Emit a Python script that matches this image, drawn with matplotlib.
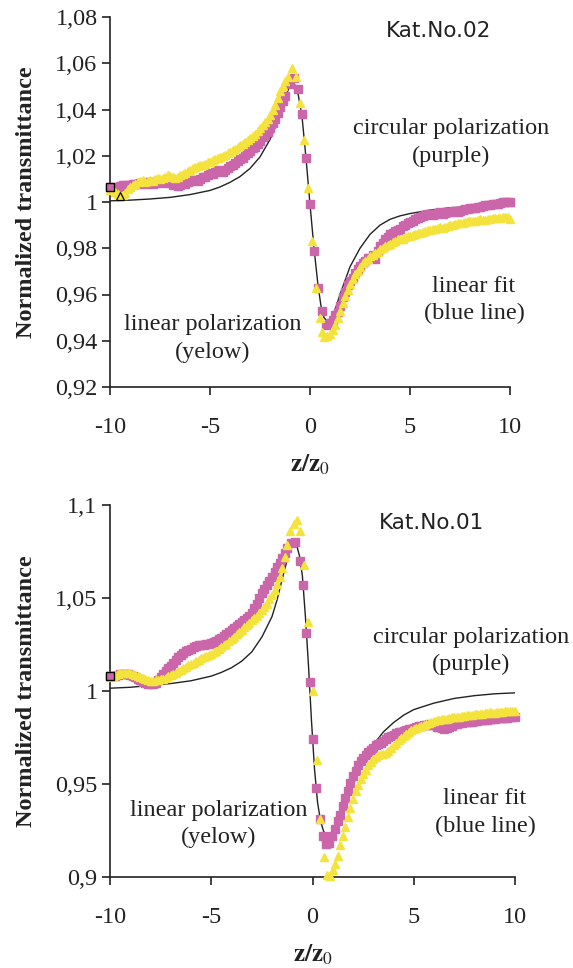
import numpy as np
import matplotlib
matplotlib.use("Agg")
import matplotlib.pyplot as plt
from matplotlib.ticker import FuncFormatter, MultipleLocator

plt.rcParams["mathtext.fontset"] = "stix"
plt.rcParams["axes.unicode_minus"] = False

# ================= panel Kat.No.02 (top) =================
top_fit_z = [-10, -9, -8, -7, -6, -5, -4.5, -4, -3.5, -3, -2.5, -2, -1.75, -1.5, -1.25,
             -1.0, -0.85, -0.7, -0.6, -0.4, -0.2, 0.0, 0.2, 0.4, 0.55, 0.7, 0.85, 1.0, 1.2,
             1.5, 1.75, 2.0, 2.5, 3.0, 3.5, 4.0, 4.5, 5.0, 6.0, 7.0, 8.0, 9.0, 10]
top_fit_t = [1.0005, 1.0008, 1.0013, 1.0020, 1.0032, 1.0050, 1.0065, 1.0085, 1.0110, 1.0145,
             1.0195, 1.0270, 1.0320, 1.0380, 1.0450, 1.0505, 1.0515, 1.0500, 1.0470, 1.0370,
             1.0190, 0.9990, 0.9800, 0.9640, 0.9550, 0.9500, 0.9485, 0.9495, 0.9520, 0.9600,
             0.9660, 0.9720, 0.9800, 0.9860, 0.9900, 0.9925, 0.9940, 0.9950, 0.9965, 0.9975,
             0.9980, 0.9988, 0.9992]

# z grids of the measured scans
z_left = np.linspace(-10, -1.25, 71)
z_right_a = np.linspace(1.125, 10, 72)
z_right_b = np.linspace(1.25, 10, 71)

top_circ_left = [1.0065, 1.0058, 1.0060, 1.0066, 1.0068, 1.0074, 1.0072, 1.0070, 1.0075, 1.0080,
                 1.0078, 1.0076, 1.0082, 1.0084, 1.0080, 1.0087, 1.0085, 1.0079, 1.0083, 1.0091,
                 1.0088, 1.0081, 1.0086, 1.0085, 1.0082, 1.0074, 1.0078, 1.0070, 1.0072, 1.0083,
                 1.0078, 1.0086, 1.0090, 1.0097, 1.0095, 1.0092, 1.0098, 1.0106, 1.0110, 1.0118,
                 1.0125, 1.0122, 1.0130, 1.0138, 1.0135, 1.0128, 1.0140, 1.0149, 1.0155, 1.0160,
                 1.0170, 1.0178, 1.0185, 1.0192, 1.0205, 1.0212, 1.0220, 1.0232, 1.0240, 1.0250,
                 1.0265, 1.0280, 1.0290, 1.0302, 1.0320, 1.0340, 1.0360, 1.0385, 1.0410, 1.0437,
                 1.0460]
top_circ_mid_z = [-1.0, -0.8, -0.6, -0.4, -0.2, 0.0, 0.2, 0.4, 0.6, 0.8, 1.0]
top_circ_mid_t = [1.0510, 1.0535, 1.0490, 1.0380, 1.0190, 0.9990, 0.9790, 0.9630, 0.9530,
                  0.9470, 0.9475]
top_circ_right = [0.9490, 0.9510, 0.9525, 0.9550, 0.9590, 0.9610, 0.9640, 0.9660, 0.9672, 0.9695,
                  0.9712, 0.9725, 0.9738, 0.9745, 0.9758, 0.9760, 0.9770, 0.9755, 0.9790, 0.9810,
                  0.9822, 0.9840, 0.9848, 0.9860, 0.9865, 0.9875, 0.9878, 0.9885, 0.9895, 0.9900,
                  0.9908, 0.9915, 0.9918, 0.9925, 0.9932, 0.9935, 0.9938, 0.9942, 0.9946, 0.9948,
                  0.9944, 0.9950, 0.9954, 0.9955, 0.9948, 0.9952, 0.9957, 0.9958, 0.9962, 0.9962,
                  0.9958, 0.9960, 0.9965, 0.9968, 0.9970, 0.9972, 0.9974, 0.9975, 0.9978, 0.9980,
                  0.9983, 0.9985, 0.9986, 0.9988, 0.9990, 0.9992, 0.9990, 0.9995, 0.9998, 1.0000,
                  1.0002, 0.9998]

top_lin_left = [1.0050, 1.0052, 1.0045, 1.0036, 1.0028, 1.0032, 1.0040, 1.0055, 1.0065, 1.0072,
                1.0080, 1.0086, 1.0090, 1.0094, 1.0088, 1.0092, 1.0095, 1.0090, 1.0100, 1.0104,
                1.0098, 1.0102, 1.0108, 1.0115, 1.0112, 1.0108, 1.0105, 1.0110, 1.0115, 1.0122,
                1.0125, 1.0134, 1.0140, 1.0146, 1.0150, 1.0157, 1.0160, 1.0158, 1.0165, 1.0172,
                1.0175, 1.0180, 1.0185, 1.0192, 1.0195, 1.0198, 1.0205, 1.0210, 1.0215, 1.0224,
                1.0230, 1.0236, 1.0245, 1.0252, 1.0260, 1.0268, 1.0275, 1.0284, 1.0295, 1.0308,
                1.0320, 1.0332, 1.0345, 1.0358, 1.0375, 1.0396, 1.0420, 1.0448, 1.0480, 1.0502,
                1.0525]
top_lin_mid_z = [-1.1, -0.9, -0.7, -0.5, -0.3, -0.1, 0.1, 0.3, 0.5, 0.6, 0.7, 0.85, 1.0]
top_lin_mid_t = [1.0540, 1.0580, 1.0540, 1.0430, 1.0270, 1.0060, 0.9830, 0.9630, 0.9500,
                 0.9440, 0.9415, 0.9420, 0.9430]
top_lin_right = [0.9445, 0.9470, 0.9500, 0.9530, 0.9565, 0.9595, 0.9618, 0.9645, 0.9668, 0.9690,
                 0.9702, 0.9720, 0.9735, 0.9745, 0.9752, 0.9765, 0.9772, 0.9780, 0.9784, 0.9795,
                 0.9800, 0.9810, 0.9812, 0.9820, 0.9826, 0.9830, 0.9838, 0.9840, 0.9842, 0.9848,
                 0.9852, 0.9855, 0.9857, 0.9860, 0.9866, 0.9868, 0.9870, 0.9875, 0.9878, 0.9880,
                 0.9882, 0.9885, 0.9888, 0.9890, 0.9889, 0.9893, 0.9897, 0.9900, 0.9902, 0.9905,
                 0.9908, 0.9910, 0.9908, 0.9912, 0.9916, 0.9918, 0.9920, 0.9920, 0.9923, 0.9925,
                 0.9922, 0.9922, 0.9926, 0.9928, 0.9930, 0.9930, 0.9931, 0.9932, 0.9934, 0.9935,
                 0.9933, 0.9928]

# ================= panel Kat.No.01 (bottom) =================
bot_fit_z = [-10, -9, -8, -7, -6, -5, -4.5, -4, -3.5, -3, -2.5, -2, -1.75, -1.5, -1.25, -1.1,
             -0.95, -0.8, -0.65, -0.5, -0.35, -0.2, -0.05, 0.1, 0.25, 0.4, 0.55, 0.7, 0.85,
             1.0, 1.15, 1.3, 1.5, 1.75, 2.0, 2.5, 3.0, 3.5, 4.0, 4.5, 5.0, 6.0, 7.0, 8.0,
             9.0, 10]
bot_fit_t = [1.0015, 1.0020, 1.0030, 1.0040, 1.0055, 1.0080, 1.0100, 1.0125, 1.0160, 1.0210,
             1.0290, 1.0400, 1.0490, 1.0600, 1.0705, 1.0775, 1.0800, 1.0790, 1.0730, 1.0620,
             1.0400, 1.0140, 0.9840, 0.9580, 0.9400, 0.9300, 0.9245, 0.9222, 0.9220, 0.9235,
             0.9260, 0.9295, 0.9350, 0.9425, 0.9495, 0.9620, 0.9710, 0.9780, 0.9830, 0.9870,
             0.9900, 0.9935, 0.9960, 0.9975, 0.9985, 0.9990]

bot_circ_left = [1.0078, 1.0080, 1.0082, 1.0087, 1.0090, 1.0093, 1.0092, 1.0091, 1.0088, 1.0082,
                 1.0075, 1.0066, 1.0058, 1.0050, 1.0045, 1.0040, 1.0038, 1.0040, 1.0045, 1.0058,
                 1.0075, 1.0090, 1.0105, 1.0122, 1.0135, 1.0150, 1.0165, 1.0182, 1.0195, 1.0206,
                 1.0215, 1.0222, 1.0228, 1.0234, 1.0240, 1.0245, 1.0248, 1.0250, 1.0252, 1.0255,
                 1.0258, 1.0262, 1.0270, 1.0278, 1.0285, 1.0294, 1.0305, 1.0318, 1.0330, 1.0340,
                 1.0350, 1.0360, 1.0370, 1.0382, 1.0395, 1.0405, 1.0420, 1.0448, 1.0470, 1.0498,
                 1.0525, 1.0548, 1.0570, 1.0592, 1.0615, 1.0640, 1.0665, 1.0690, 1.0715, 1.0742,
                 1.0770]
bot_circ_mid_z = [-1.05, -0.85, -0.62, -0.46, -0.32, -0.14, 0.0, 0.17, 0.35, 0.5, 0.65, 0.8,
                  0.95, 1.1]
bot_circ_mid_t = [1.0795, 1.0800, 1.0700, 1.0570, 1.0310, 1.0050, 0.9740, 0.9480, 0.9310,
                  0.9220, 0.9180, 0.9185, 0.9220, 0.9260]
bot_circ_right = [0.9300, 0.9335, 0.9380, 0.9425, 0.9465, 0.9505, 0.9545, 0.9570, 0.9600, 0.9622,
                  0.9640, 0.9655, 0.9670, 0.9684, 0.9695, 0.9708, 0.9715, 0.9722, 0.9730, 0.9742,
                  0.9750, 0.9758, 0.9765, 0.9772, 0.9780, 0.9778, 0.9785, 0.9792, 0.9795, 0.9798,
                  0.9800, 0.9806, 0.9810, 0.9812, 0.9815, 0.9818, 0.9820, 0.9818, 0.9815, 0.9808,
                  0.9805, 0.9800, 0.9798, 0.9800, 0.9805, 0.9814, 0.9820, 0.9825, 0.9828, 0.9830,
                  0.9832, 0.9834, 0.9835, 0.9836, 0.9838, 0.9840, 0.9842, 0.9844, 0.9845, 0.9846,
                  0.9848, 0.9850, 0.9852, 0.9853, 0.9855, 0.9855, 0.9856, 0.9857, 0.9858, 0.9859,
                  0.9860]

bot_lin_left = [1.0075, 1.0080, 1.0085, 1.0090, 1.0095, 1.0097, 1.0098, 1.0097, 1.0095, 1.0092,
                1.0088, 1.0082, 1.0075, 1.0068, 1.0062, 1.0058, 1.0055, 1.0056, 1.0058, 1.0060,
                1.0062, 1.0066, 1.0072, 1.0078, 1.0085, 1.0091, 1.0098, 1.0106, 1.0115, 1.0122,
                1.0130, 1.0138, 1.0145, 1.0152, 1.0160, 1.0168, 1.0175, 1.0181, 1.0188, 1.0194,
                1.0200, 1.0207, 1.0215, 1.0225, 1.0235, 1.0245, 1.0255, 1.0267, 1.0280, 1.0292,
                1.0305, 1.0318, 1.0330, 1.0342, 1.0355, 1.0368, 1.0380, 1.0392, 1.0405, 1.0420,
                1.0435, 1.0452, 1.0470, 1.0492, 1.0515, 1.0545, 1.0575, 1.0615, 1.0660, 1.0720,
                1.0785]
bot_lin_mid_z = [-1.1, -0.9, -0.75, -0.6, -0.4, -0.2, 0.0, 0.2, 0.38, 0.55, 0.7, 0.85, 1.0]
bot_lin_mid_t = [1.0860, 1.0900, 1.0920, 1.0860, 1.0680, 1.0370, 1.0000, 0.9630, 0.9310,
                 0.9105, 0.9010, 0.9005, 0.9035]
bot_lin_right = [0.9070, 0.9115, 0.9170, 0.9220, 0.9270, 0.9320, 0.9370, 0.9420, 0.9460, 0.9492,
                 0.9525, 0.9552, 0.9575, 0.9600, 0.9618, 0.9635, 0.9645, 0.9655, 0.9660, 0.9662,
                 0.9668, 0.9680, 0.9695, 0.9710, 0.9722, 0.9735, 0.9748, 0.9760, 0.9770, 0.9780,
                 0.9788, 0.9795, 0.9802, 0.9808, 0.9813, 0.9818, 0.9823, 0.9828, 0.9834, 0.9838,
                 0.9842, 0.9845, 0.9848, 0.9850, 0.9852, 0.9855, 0.9858, 0.9860, 0.9861, 0.9862,
                 0.9865, 0.9868, 0.9869, 0.9870, 0.9873, 0.9875, 0.9877, 0.9878, 0.9879, 0.9880,
                 0.9883, 0.9885, 0.9884, 0.9882, 0.9885, 0.9888, 0.9889, 0.9890, 0.9891, 0.9892,
                 0.9893, 0.9890]

panels = [
    dict(name="Kat.No.02", fz=top_fit_z, ft=top_fit_t,
         cz=np.concatenate([z_left, top_circ_mid_z, z_right_a]),
         ct=np.concatenate([top_circ_left, top_circ_mid_t, top_circ_right]),
         lz=np.concatenate([z_left, top_lin_mid_z, z_right_a]),
         lt=np.concatenate([top_lin_left, top_lin_mid_t, top_lin_right]),
         ylim=(0.92, 1.08), ystep=0.02),
    dict(name="Kat.No.01", fz=bot_fit_z, ft=bot_fit_t,
         cz=np.concatenate([z_left, bot_circ_mid_z, z_right_b]),
         ct=np.concatenate([bot_circ_left, bot_circ_mid_t, bot_circ_right]),
         lz=np.concatenate([z_left, bot_lin_mid_z, z_right_a]),
         lt=np.concatenate([bot_lin_left, bot_lin_mid_t, bot_lin_right]),
         ylim=(0.90, 1.10), ystep=0.05),
]

PURPLE = "#CC66AA"
YELLOW = "#F4E33C"
INK = "#222222"
SERIF = "Liberation Serif"

fig = plt.figure(figsize=(5.73, 9.68), dpi=100)
axes_rects = [
    [110 / 573, 1 - 387 / 968, 400 / 573, 370 / 968],
    [110 / 573, 1 - 877 / 968, 405 / 573, 372 / 968],
]
text_pos = [
    dict(kat=(0.8225, 0.99), circ=(0.8525, 0.661), fit=(0.91, 0.235), lin=(0.2575, 0.131)),
    dict(kat=(0.795, 0.978), circ=(0.891, 0.6075), fit=(0.926, 0.173), lin=(0.269, 0.1425)),
]


def fmt(v, pos):
    s = ("%.2f" % v).rstrip("0").rstrip(".")
    return s.replace(".", ",")


for i, (rect, p, tp) in enumerate(zip(axes_rects, panels, text_pos)):
    ax = fig.add_axes(rect)
    ax.plot(p["fz"], p["ft"], color=INK, lw=1.0, zorder=2)
    ax.plot(p["cz"], p["ct"], ls="none", marker="s", ms=5.6, color=PURPLE,
            mec=PURPLE, zorder=3, clip_on=False)
    ax.plot(p["lz"], p["lt"], ls="none", marker="^", ms=6.4, color=YELLOW,
            mec=YELLOW, zorder=4, clip_on=False)
    # first (selected) points outlined in black, as in the original sheet
    ax.plot(p["cz"][:1], p["ct"][:1], ls="none", marker="s", ms=5.6, mfc=PURPLE,
            mec="black", mew=1.0, zorder=5, clip_on=False)
    if i == 0:
        ax.plot(p["lz"][4:5], p["lt"][4:5], ls="none", marker="^", ms=6.4, mfc="none",
                mec="black", mew=0.9, zorder=5, clip_on=False)
    ax.set_xlim(-10, 10)
    ax.set_ylim(*p["ylim"])
    ax.xaxis.set_major_locator(MultipleLocator(5))
    ax.yaxis.set_major_locator(MultipleLocator(p["ystep"]))
    ax.yaxis.set_major_formatter(FuncFormatter(fmt))
    for s in ("top", "right"):
        ax.spines[s].set_visible(False)
    for s in ("left", "bottom"):
        ax.spines[s].set_linewidth(1.2)
        ax.spines[s].set_color(INK)
    ax.tick_params(direction="out", length=6, width=1.2, color=INK,
                   labelsize=17.5, pad=3, labelcolor=INK)
    ax.tick_params(axis="x", pad=15.5)
    for lab in ax.get_xticklabels() + ax.get_yticklabels():
        lab.set_fontfamily(SERIF)
    ax.set_ylabel("Normalized transmittance", fontfamily=SERIF, fontweight="bold",
                  fontsize=17.5, labelpad=13, color=INK)
    ax.set_xlabel(r"$\mathbf{z/z}_{\mathrm{0}}$", fontsize=18, labelpad=11, color=INK)
    ax.text(*tp["kat"], p["name"], transform=ax.transAxes, ha="center", va="top",
            fontfamily="DejaVu Sans", fontsize=15.5, color=INK)
    for key, txt in (("circ", "circular polarization\n(purple)"),
                     ("fit", "linear fit\n(blue line)"),
                     ("lin", "linear polarization\n(yelow)")):
        ax.text(*tp[key], txt, transform=ax.transAxes, ha="center", va="center",
                fontfamily=SERIF, fontsize=17.5, linespacing=1.4, color=INK)

fig.savefig("out.png", dpi=100)
